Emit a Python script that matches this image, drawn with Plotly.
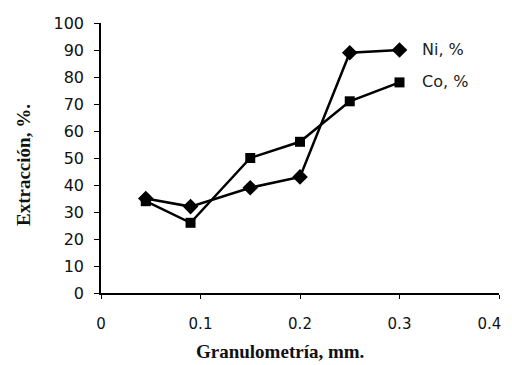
import plotly.graph_objects as go

granulometria = [0.045, 0.09, 0.15, 0.2, 0.25, 0.3]
ni = [35, 32, 39, 43, 89, 90]
co = [34, 26, 50, 56, 71, 78]
x_ticks = [0, 0.1, 0.2, 0.3, 0.4]
# trailing figure spaces keep the last label inside the visible window
x_tick_labels = ["0", "0.1", "0.2", "0.3", "0.4\u2007\u2007"]
y_ticks = list(range(0, 101, 10))

# page body has an 8px default margin
OFF = 8
W, H = 512 - OFF, 365 - OFF
L, T = 101 - OFF, 23 - OFF
R = W - (499 - OFF)
B = H - (293 - OFF)
pw, ph = W - L - R, H - T - B

def px_x(p):
    return (p - OFF - L) / pw

def px_y(p):
    return (H - B - (p - OFF)) / ph

fig = go.Figure()
fig.add_trace(go.Scatter(x=granulometria, y=ni, mode="lines+markers", name="Ni, %",
                         line=dict(color="black", width=2.5),
                         marker=dict(symbol="diamond", size=12, color="black")))
fig.add_trace(go.Scatter(x=granulometria, y=co, mode="lines+markers", name="Co, %",
                         line=dict(color="black", width=2.5),
                         marker=dict(symbol="square", size=10, color="black")))

for name, vals in (("Ni, %", ni), ("Co, %", co)):
    fig.add_annotation(x=granulometria[-1], y=vals[-1], text=name, showarrow=False,
                       xanchor="left", xshift=20, yshift=1,
                       font=dict(family="DejaVu Sans", size=16, color="#222"))

title_font = dict(family="Liberation Serif, Times New Roman", size=19, color="#111")
fig.add_annotation(xref="paper", yref="paper", x=px_x(280), y=px_y(351),
                   text="<b>Granulometría, mm.</b>", showarrow=False,
                   xanchor="center", yanchor="middle", font=title_font)
fig.add_annotation(xref="paper", yref="paper", x=px_x(23), y=px_y(165),
                   text="<b>Extracción, %.</b>", showarrow=False, textangle=-90,
                   xanchor="center", yanchor="middle", font=title_font)

fig.update_layout(
    width=W, height=H,
    margin=dict(l=L, r=R, t=T, b=B),
    paper_bgcolor="white", plot_bgcolor="white",
    showlegend=False,
    font=dict(family="DejaVu Sans", size=16, color="#111"),
    xaxis=dict(range=[0, 0.4], tickvals=x_ticks, ticktext=x_tick_labels, automargin=False,
               showgrid=False, zeroline=False, showline=True, linecolor="black", linewidth=1.5,
               ticks="outside", ticklen=4, tickcolor="black", ticklabelstandoff=12,
               ticklabeloverflow="allow",
               tickfont=dict(family="DejaVu Sans", size=15, color="#111")),
    yaxis=dict(range=[0, 100], tickvals=y_ticks, automargin=False,
               showgrid=False, zeroline=False, showline=True, linecolor="black", linewidth=1.5,
               ticks="outside", ticklen=5, tickcolor="black", ticklabelstandoff=7),
)
fig.write_html("out.html")
